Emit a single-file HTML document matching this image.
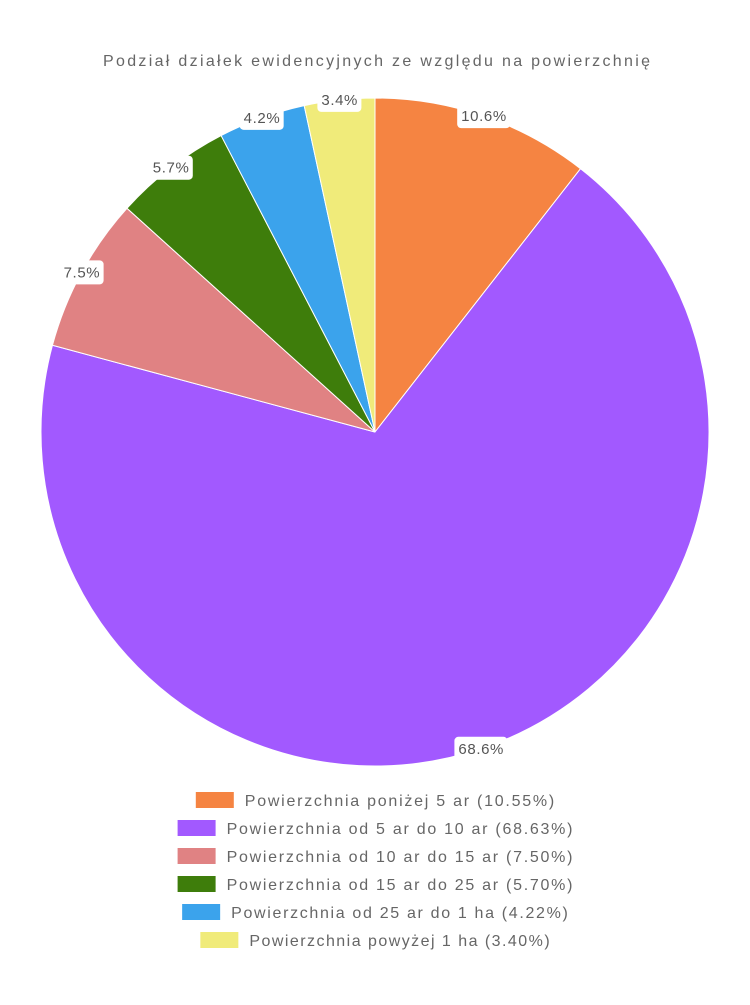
<!DOCTYPE html>
<html><head><meta charset="utf-8"><style>
body{margin:0;background:#fff;width:750px;height:1000px;overflow:hidden;font-family:"Liberation Sans",sans-serif;}
</style></head><body>
<svg id="chart" width="750" height="1000">
<text x="103" y="66" font-size="16" fill="#666" textLength="547" lengthAdjust="spacing">Podział działek ewidencyjnych ze względu na powierzchnię</text>
<g id="slices"></g><g id="labels"></g><g id="legend"></g>
</svg>
<script>
const categories=["Powierzchnia poniżej 5 ar","Powierzchnia od 5 ar do 10 ar","Powierzchnia od 10 ar do 15 ar","Powierzchnia od 15 ar do 25 ar","Powierzchnia od 25 ar do 1 ha","Powierzchnia powyżej 1 ha"];
const values=[10.55,68.63,7.50,5.70,4.22,3.40];
const colors=["#f58442","#a259ff","#e08283","#3e7d0b","#3ba3ec","#f0eb7a"];
const NS="http://www.w3.org/2000/svg";
const cx=375,cy=432,r=334;
const total=values.reduce((a,b)=>a+b,0);
const sl=document.getElementById('slices'),lb=document.getElementById('labels'),lg=document.getElementById('legend');
function pt(a,rad){return [cx+rad*Math.sin(a),cy-rad*Math.cos(a)];}
let acc=0;
values.forEach((v,i)=>{
  const a0=acc/total*2*Math.PI;acc+=v;const a1=acc/total*2*Math.PI;
  const p0=pt(a0,r),p1=pt(a1,r);
  const p=document.createElementNS(NS,'path');
  p.setAttribute('d',`M${cx},${cy}L${p0[0]},${p0[1]}A${r},${r} 0 ${a1-a0>Math.PI?1:0} 1 ${p1[0]},${p1[1]}Z`);
  p.setAttribute('fill',colors[i]);p.setAttribute('stroke','#fff');p.setAttribute('stroke-width','1');
  
  
  sl.appendChild(p);
  const m=pt((a0+a1)/2,r);
  const txt=(v/total*100).toFixed(1)+'%';
  const w=txt.length*9+8;
  const g=document.createElementNS(NS,'g');
  
  
  const rc=document.createElementNS(NS,'rect');
  rc.setAttribute('x',m[0]-w/2);rc.setAttribute('y',m[1]-12);rc.setAttribute('width',w);rc.setAttribute('height',24);rc.setAttribute('rx',4);rc.setAttribute('fill','#fff');
  const t=document.createElementNS(NS,'text');
  t.setAttribute('x',m[0]-(w-8)/2);t.setAttribute('y',m[1]+5);t.setAttribute('font-size','15');t.setAttribute('fill','#555');
  t.setAttribute('textLength',w-8);t.setAttribute('lengthAdjust','spacing');t.textContent=txt;
  g.appendChild(rc);g.appendChild(t);lb.appendChild(g);
  const y=800+i*28;
  const label=categories[i]+' ('+v.toFixed(2)+'%)';
  const tw=label.length*9.1;
  const bx=375-(tw+49)/2;
  const lgE=document.createElementNS(NS,'g');
  
  
  const b=document.createElementNS(NS,'rect');
  b.setAttribute('x',bx);b.setAttribute('y',y-8);b.setAttribute('width',38);b.setAttribute('height',16);b.setAttribute('fill',colors[i]);
  const lt=document.createElementNS(NS,'text');
  lt.setAttribute('x',bx+49);lt.setAttribute('y',y+6);lt.setAttribute('font-size','16');lt.setAttribute('fill','#666');
  lt.setAttribute('textLength',tw);lt.setAttribute('lengthAdjust','spacing');lt.textContent=label;
  lgE.appendChild(b);lgE.appendChild(lt);lg.appendChild(lgE);
});
</script>
</body></html>
